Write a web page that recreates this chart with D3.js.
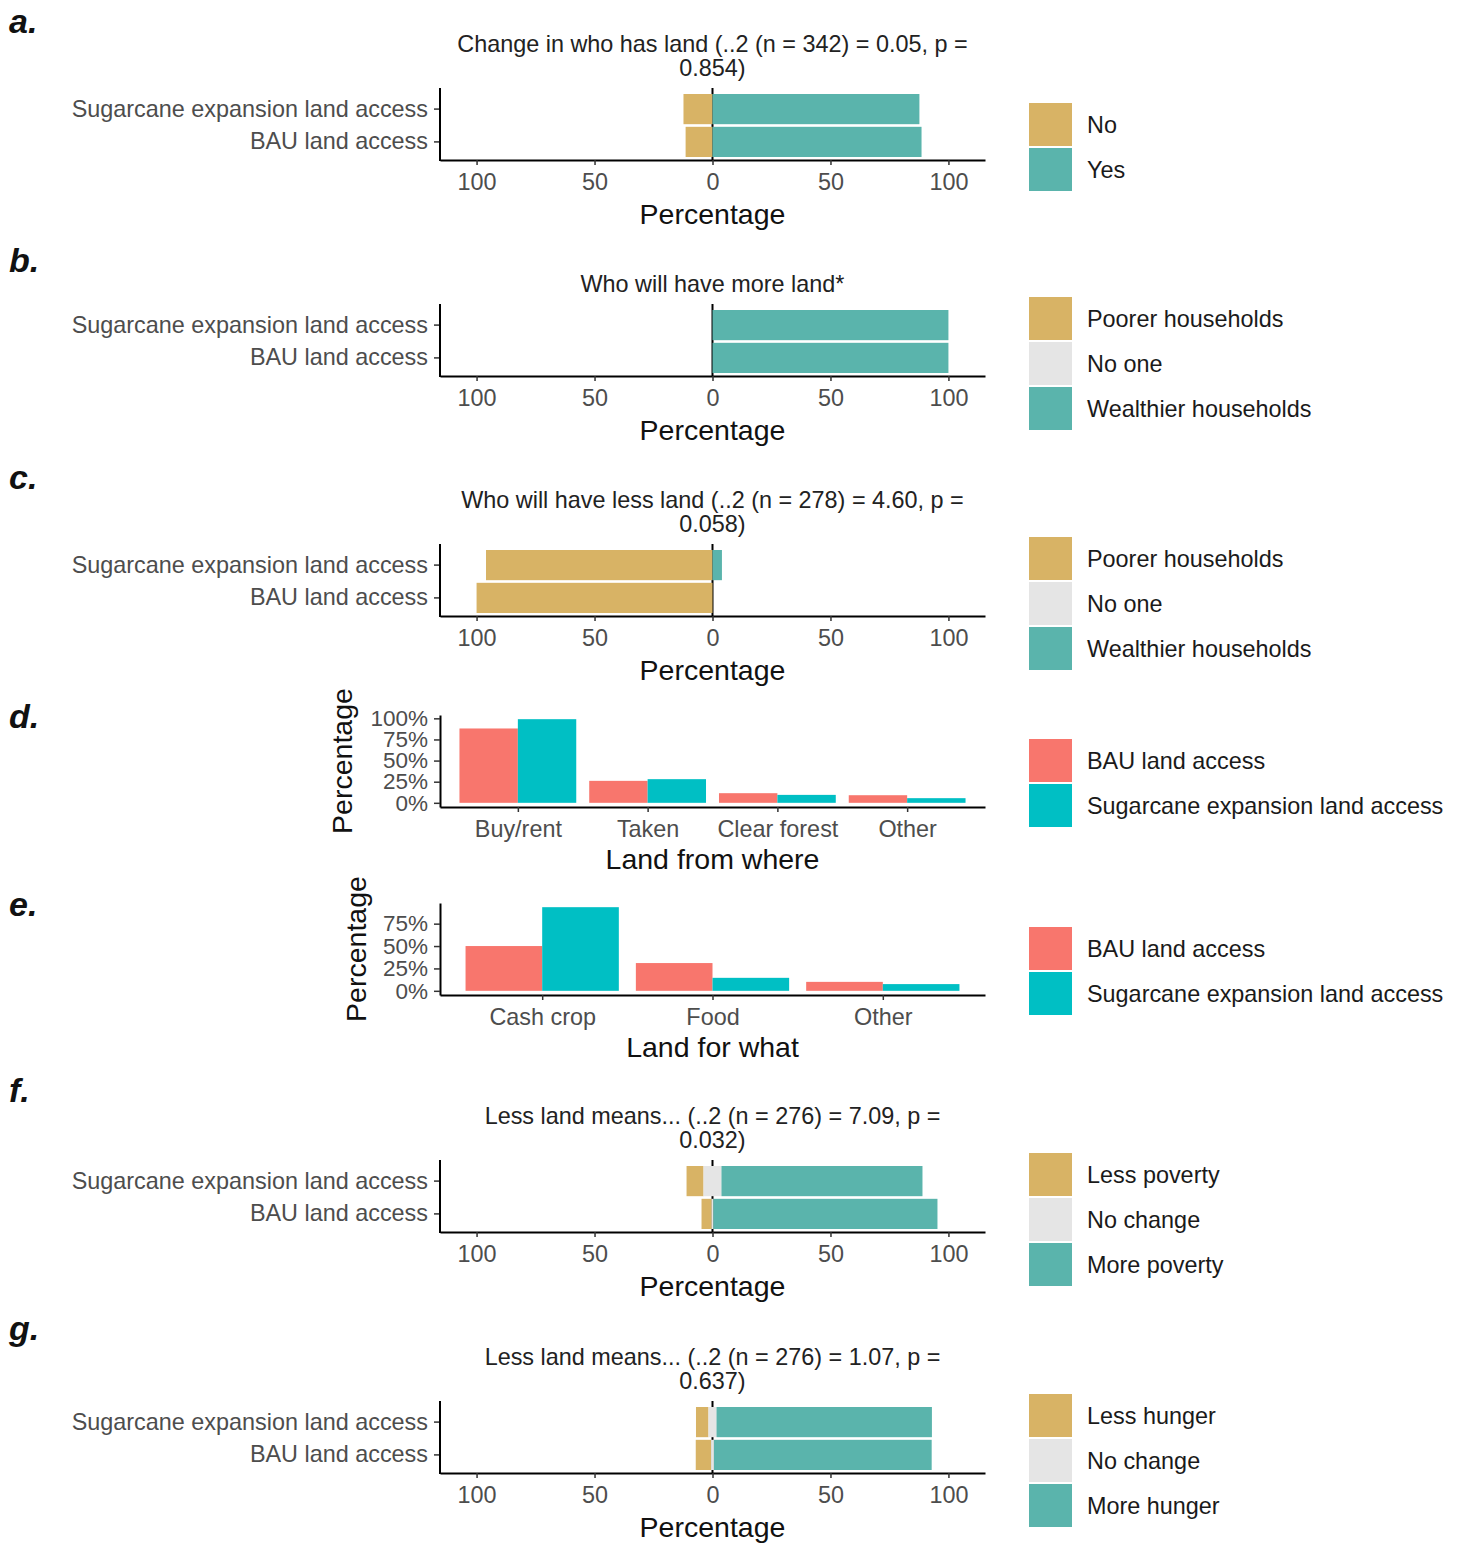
<!DOCTYPE html>
<html>
<head>
<meta charset="utf-8">
<script src="https://cdn.jsdelivr.net/npm/d3@7"></script>
<style>
  body { margin: 0; background: #fff; }
  svg { display: block; font-family: "Liberation Sans", Arial, Helvetica, sans-serif; }
</style>
</head>
<body>
<svg id="chart" width="1463" height="1545"></svg>
<script>
// ---------- data ----------
const rowLabels = ["Sugarcane expansion land access", "BAU land access"];

const hasLandLevels = ["No", "Yes"];
const hasLandSugarcane = [12.3, 87.7];
const hasLandBAU = [11.4, 88.6];

const moreLandLevels = ["Poorer households", "No one", "Wealthier households"];
const moreLandSugarcane = [0, 0, 100];
const moreLandBAU = [0, 0, 100];

const lessLandLevels = ["Poorer households", "No one", "Wealthier households"];
const lessLandSugarcane = [96, 0, 4];
const lessLandBAU = [100, 0, 0];

const povertyLevels = ["Less poverty", "No change", "More poverty"];
const povertySugarcane = [7.2, 7.6, 85.2];
const povertyBAU = [4.3, 0.7, 95.0];

const hungerLevels = ["Less hunger", "No change", "More hunger"];
const hungerSugarcane = [5.3, 3.4, 91.3];
const hungerBAU = [6.5, 1.2, 92.3];

const groupLabels = ["BAU land access", "Sugarcane expansion land access"];

const sourceCategories = ["Buy/rent", "Taken", "Clear forest", "Other"];
const sourceBAU = [88, 26, 11.4, 9];
const sourceSugarcane = [99, 28, 9.4, 5.5];

const useCategories = ["Cash crop", "Food", "Other"];
const useBAU = [50, 31, 10];
const useSugarcane = [93.4, 14.5, 7.5];

const likertTicks = [-100, -50, 0, 50, 100];
const percentTicks = [0, 25, 50, 75, 100];

// ---------- palette ----------
const twoLevelColors = ["#D8B365", "#5AB4AC"];
const threeLevelColors = ["#D8B365", "#E5E5E5", "#5AB4AC"];
const groupColors = ["#F8766D", "#00BFC4"];

// ---------- layout ----------
const svg = d3.select("#chart");
const X0 = 440, X1 = 985, XMID = (X0 + X1) / 2;
const AXIS_TEXT = 23.4, AXIS_TITLE = 28.5;
const AXIS_GREY = "#4D4D4D";

function panelLetter(t, baseline) {
  svg.append("text")
    .attr("x", 9).attr("y", baseline)
    .attr("font-size", 34).attr("font-weight", "bold").attr("font-style", "italic")
    .attr("fill", "#111").text(t);
}

function legend(levels, colors, top) {
  const g = svg.append("g");
  levels.forEach((lv, i) => {
    const y = top + i * 45;
    g.append("rect").attr("x", 1029).attr("y", y).attr("width", 43).attr("height", 43)
      .attr("fill", colors[i]);
    g.append("text").attr("x", 1087).attr("y", y + 21.5).attr("dy", "0.36em")
      .attr("font-size", AXIS_TEXT).attr("fill", "#1a1a1a").text(lv);
  });
}

function styleAxis(g, fontSize) {
  g.selectAll(".domain").attr("stroke", "#000").attr("stroke-width", 2);
  g.selectAll(".tick line").attr("stroke", "#333").attr("stroke-width", 1.5);
  g.selectAll(".tick text").attr("font-size", fontSize || AXIS_TEXT).attr("fill", AXIS_GREY)
    .attr("font-family", "Liberation Sans, Arial, sans-serif");
}

// Split a row of level shares into diverging segments centred on zero;
// an odd middle level straddles the zero line.
function divergingSegments(vals) {
  const n = vals.length, segs = [];
  const odd = n % 2 === 1, mid = Math.floor(n / 2);
  const h = odd ? vals[mid] / 2 : 0;
  let left = -h;
  for (let i = mid - 1; i >= 0; i--) { segs.push({ i, x0: left - vals[i], x1: left }); left -= vals[i]; }
  if (odd) segs.push({ i: mid, x0: -h, x1: h });
  let right = h;
  for (let i = odd ? mid + 1 : mid; i < n; i++) { segs.push({ i, x0: right, x1: right + vals[i] }); right += vals[i]; }
  return segs;
}

function likertPanel(cfg) {
  const ab = cfg.axisY;
  const x = d3.scaleLinear().domain([-115.5, 115.5]).range([X0, X1]);
  const y = d3.scaleBand().domain(rowLabels).range([ab - 66, ab - 3]).paddingInner(0.08);
  const rows = [
    { label: rowLabels[0], values: cfg.sugarcane },
    { label: rowLabels[1], values: cfg.bau }
  ];

  // title
  const t = svg.append("text").attr("x", XMID).attr("text-anchor", "middle")
    .attr("font-size", AXIS_TEXT).attr("fill", "#222");
  cfg.title.forEach((line, k) => {
    t.append("tspan").attr("x", XMID)
      .attr("y", ab - 84 - (cfg.title.length - 1 - k) * 24).text(line);
  });

  // zero reference line
  svg.append("line").attr("x1", x(0)).attr("x2", x(0))
    .attr("y1", ab - 72).attr("y2", ab).attr("stroke", "#000").attr("stroke-width", 2);

  // bars
  const g = svg.append("g");
  rows.forEach(r => {
    g.selectAll(null).data(divergingSegments(r.values).filter(s => s.x1 > s.x0)).enter()
      .append("rect")
      .attr("x", s => x(s.x0)).attr("width", s => x(s.x1) - x(s.x0))
      .attr("y", y(r.label)).attr("height", y.bandwidth())
      .attr("fill", s => cfg.colors[s.i]);
  });

  // axes
  const xa = svg.append("g").attr("transform", `translate(0,${ab})`)
    .call(d3.axisBottom(x).tickValues(likertTicks).tickFormat(d => Math.abs(d))
      .tickSize(5).tickSizeOuter(0).tickPadding(8));
  styleAxis(xa);
  const ya = svg.append("g").attr("transform", `translate(${X0},0)`)
    .call(d3.axisLeft(y).tickSize(6).tickPadding(6).tickSizeOuter(0));
  styleAxis(ya);
  ya.select(".domain").remove();
  svg.append("line").attr("x1", X0).attr("x2", X0).attr("y1", ab - 72).attr("y2", ab + 1)
    .attr("stroke", "#000").attr("stroke-width", 2);

  svg.append("text").attr("x", XMID).attr("y", ab + 64).attr("text-anchor", "middle")
    .attr("font-size", AXIS_TITLE).attr("fill", "#111").text("Percentage");

  panelLetter(cfg.letter, cfg.letterY);
  legend(cfg.levels, cfg.colors, cfg.legendTop);
}

function barPanel(cfg) {
  const ab = cfg.axisY;
  const maxV = d3.max(cfg.bau.concat(cfg.sugarcane));
  const x = d3.scalePoint().domain(cfg.categories).range([X0, X1]).padding(0.6);
  const y = d3.scaleLinear().domain([-0.05 * maxV, 1.05 * maxV]).range([ab, ab - 92]);
  const half = x.step() * 0.9 / 2;
  const series = [cfg.bau, cfg.sugarcane];

  const g = svg.append("g");
  series.forEach((vals, s) => {
    g.selectAll(null).data(cfg.categories).enter().append("rect")
      .attr("x", (c) => x(c) - half + s * half).attr("width", half)
      .attr("y", (c, i) => y(vals[i])).attr("height", (c, i) => y(0) - y(vals[i]))
      .attr("fill", groupColors[s]);
  });

  const xa = svg.append("g").attr("transform", `translate(0,${ab})`)
    .call(d3.axisBottom(x).tickSize(5).tickSizeOuter(0).tickPadding(8));
  styleAxis(xa);
  // percent ticks sit ~21px apart, so their labels are set a little tighter
  const ya = svg.append("g").attr("transform", `translate(${X0},0)`)
    .call(d3.axisLeft(y).tickValues(percentTicks.filter(v => v <= 1.05 * maxV))
      .tickFormat(d => d + "%").tickSize(6).tickPadding(6).tickSizeOuter(0));
  styleAxis(ya, 22.5);

  svg.append("text").attr("x", XMID).attr("y", ab + 62).attr("text-anchor", "middle")
    .attr("font-size", AXIS_TITLE).attr("fill", "#111").text(cfg.xTitle);
  svg.append("text")
    .attr("transform", `translate(${cfg.yTitleX},${ab - 46}) rotate(-90)`)
    .attr("text-anchor", "middle").attr("font-size", AXIS_TITLE).attr("fill", "#111")
    .text("Percentage");

  panelLetter(cfg.letter, cfg.letterY);
  legend(groupLabels, groupColors, cfg.legendTop);
}

// ---------- panels ----------
likertPanel({
  letter: "a.", letterY: 33, axisY: 160, legendTop: 103,
  title: ["Change in who has land (..2 (n = 342) = 0.05, p =", "0.854)"],
  levels: hasLandLevels, colors: twoLevelColors,
  sugarcane: hasLandSugarcane, bau: hasLandBAU
});
likertPanel({
  letter: "b.", letterY: 272, axisY: 376, legendTop: 297,
  title: ["Who will have more land*"],
  levels: moreLandLevels, colors: threeLevelColors,
  sugarcane: moreLandSugarcane, bau: moreLandBAU
});
likertPanel({
  letter: "c.", letterY: 489, axisY: 616, legendTop: 537,
  title: ["Who will have less land (..2 (n = 278) = 4.60, p =", "0.058)"],
  levels: lessLandLevels, colors: threeLevelColors,
  sugarcane: lessLandSugarcane, bau: lessLandBAU
});
barPanel({
  letter: "d.", letterY: 728, axisY: 807, legendTop: 739,
  categories: sourceCategories, bau: sourceBAU, sugarcane: sourceSugarcane,
  xTitle: "Land from where", yTitleX: 352
});
barPanel({
  letter: "e.", letterY: 916, axisY: 995, legendTop: 927,
  categories: useCategories, bau: useBAU, sugarcane: useSugarcane,
  xTitle: "Land for what", yTitleX: 366
});
likertPanel({
  letter: "f.", letterY: 1102, axisY: 1232, legendTop: 1153,
  title: ["Less land means... (..2 (n = 276) = 7.09, p =", "0.032)"],
  levels: povertyLevels, colors: threeLevelColors,
  sugarcane: povertySugarcane, bau: povertyBAU
});
likertPanel({
  letter: "g.", letterY: 1340, axisY: 1473, legendTop: 1394,
  title: ["Less land means... (..2 (n = 276) = 1.07, p =", "0.637)"],
  levels: hungerLevels, colors: threeLevelColors,
  sugarcane: hungerSugarcane, bau: hungerBAU
});
</script>
</body>
</html>
